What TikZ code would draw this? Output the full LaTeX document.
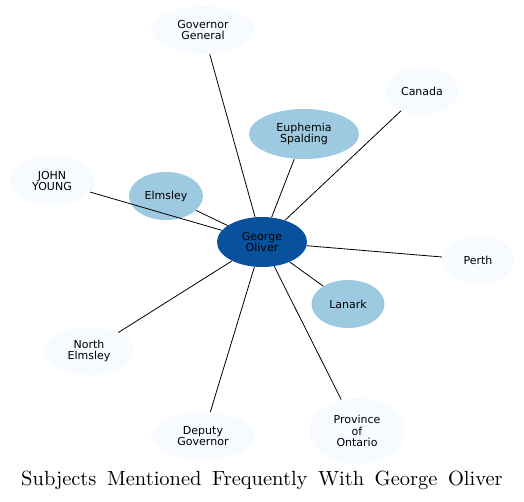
\documentclass[tikz,border=0pt]{standalone}
\usepackage{fontspec}
\newfontfamily\labelfont{DejaVu Sans}
\newfontfamily\titlefont{lmroman10-regular}[Extension=.otf]
\usetikzlibrary{shapes.geometric}
\definecolor{hubblue}{HTML}{08519C}
\definecolor{midblue}{HTML}{9ECAE1}
\definecolor{paleblue}{HTML}{F7FBFF}
\tikzset{
  subj/.style={ellipse, inner sep=0pt, align=center,
    font=\labelfont\fontsize{11}{11.5}\selectfont},
  hub/.style={subj, fill=hubblue, minimum width=90pt, minimum height=50pt},
  near/.style={subj, fill=midblue},
  far/.style={subj, fill=paleblue},
  link/.style={black, line width=0.8pt}
}
\begin{document}
\begin{tikzpicture}[x=1pt, y=-1pt]
  \useasboundingbox (0,0) rectangle (524,502);
  % central subject
  \node[hub] (oliver) at (262,242) {George\\Oliver};
  % closely linked subjects
  \node[near, minimum width=110pt, minimum height=50pt] (spalding) at (304,134) {Euphemia\\Spalding};
  \node[near, minimum width=74pt, minimum height=48pt] (elmsley) at (166,196) {Elmsley};
  \node[near, minimum width=73pt, minimum height=48pt] (lanark) at (348,304) {Lanark};
  % other subjects
  \node[far, minimum width=102pt, minimum height=48pt] (govgen) at (203,30) {Governor\\General};
  \node[far, minimum width=73pt, minimum height=48pt] (canada) at (422,91) {Canada};
  \node[far, minimum width=85pt, minimum height=49pt] (young) at (52,181) {JOHN\\YOUNG};
  \node[far, minimum width=72pt, minimum height=48pt] (perth) at (478,260) {Perth};
  \node[far, minimum width=90pt, minimum height=48pt] (nelmsley) at (89,351) {North\\Elmsley};
  \node[far, minimum width=102pt, minimum height=48pt] (depgov) at (203,436) {Deputy\\Governor};
  \node[far, minimum width=96pt, minimum height=66pt] (ontario) at (357,431) {Province\\of\\Ontario};
  % connectors
  \foreach \other in {spalding, elmsley, lanark, govgen, canada, young, perth, nelmsley, depgov, ontario}
    \draw[link] (oliver) -- (\other);
  % title
  \node[font=\titlefont\fontsize{20.5}{24}\selectfont] (title) at (262,480)
    {\spaceskip=10.5pt Subjects Mentioned Frequently With George Oliver};
\end{tikzpicture}
\end{document}
